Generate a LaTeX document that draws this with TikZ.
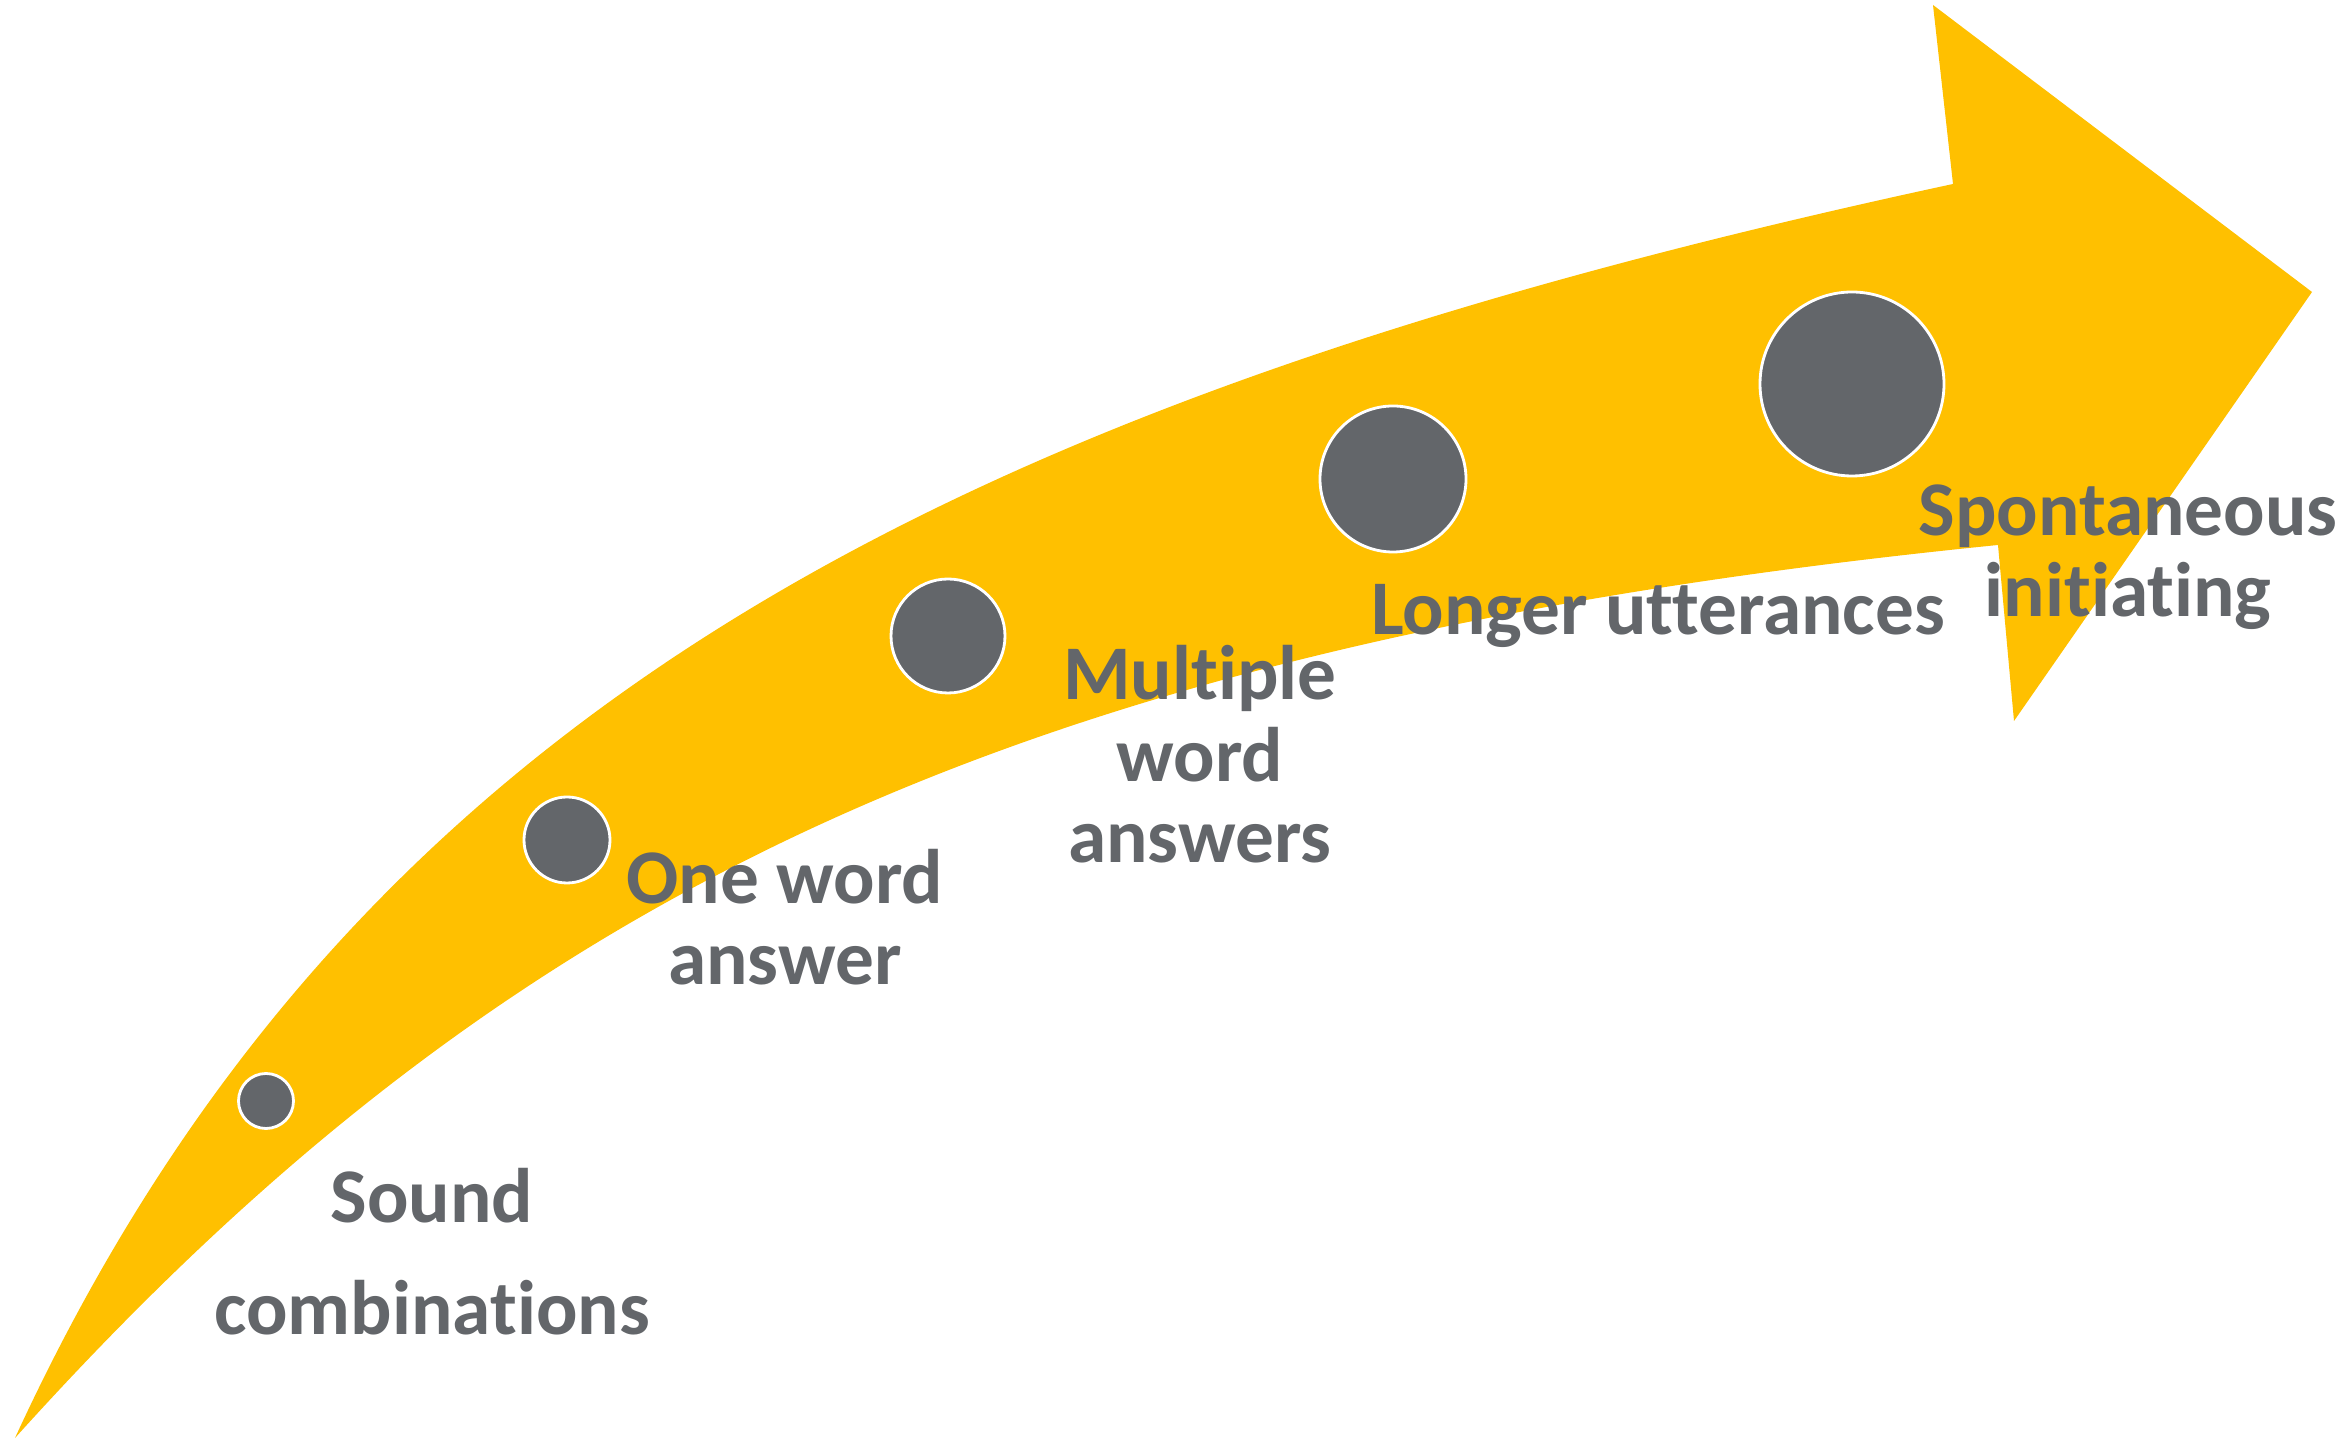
\documentclass[tikz,border=0pt]{standalone}
\usepackage{fontspec}
\setmainfont{Carlito}[Ligatures=NoCommon]
\definecolor{arrowgold}{HTML}{FFC000}
\definecolor{dotgray}{HTML}{63666A}
\tikzset{
  stagedot/.style={circle, fill=dotgray, draw=white, line width=0.8pt, inner sep=0pt},
  stagelabel/.style={anchor=base, align=center, text=dotgray, inner sep=0pt,
    font=\fontsize{22}{23.3}\selectfont\bfseries}
}
\begin{document}
\begin{tikzpicture}
  \useasboundingbox (0,0) rectangle (23.43,14.40);
  % curved arrow
  \fill[arrowgold] (0.15,0.02) .. controls (3.50,7.30) and (9.50,10.40) .. (19.53,12.56)
    -- (19.33,14.35) -- (23.12,11.48) -- (20.14,7.19) -- (19.98,8.95)
    .. controls (10.00,7.95) and (5.00,5.40) .. (0.15,0.02) -- cycle;
  \draw
    (2.66,3.39) node[stagedot, minimum size=5.5mm] (d1){}
    (5.67,6.00) node[stagedot, minimum size=8.6mm] (d2){}
    (9.48,8.04) node[stagedot, minimum size=11.4mm] (d3){}
    (13.93,9.61) node[stagedot, minimum size=14.6mm] (d4){}
    (18.52,10.56) node[stagedot, minimum size=18.4mm] (d5){};
  % labels, placed at the baseline of their last line
  \draw
    (4.32,1.05) node[stagelabel] (sound){Sound\\[8.7pt]combinations}
    (7.85,4.55) node[stagelabel] (oneword){One word\\answer}
    (12.00,5.77) node[stagelabel] (multiple){Multiple\\word\\answers}
    (16.58,8.05) node[stagelabel] (longer){Longer utterances}
    (21.28,8.23) node[stagelabel] (spont){Spontaneous\\initiating};
\end{tikzpicture}
\end{document}
